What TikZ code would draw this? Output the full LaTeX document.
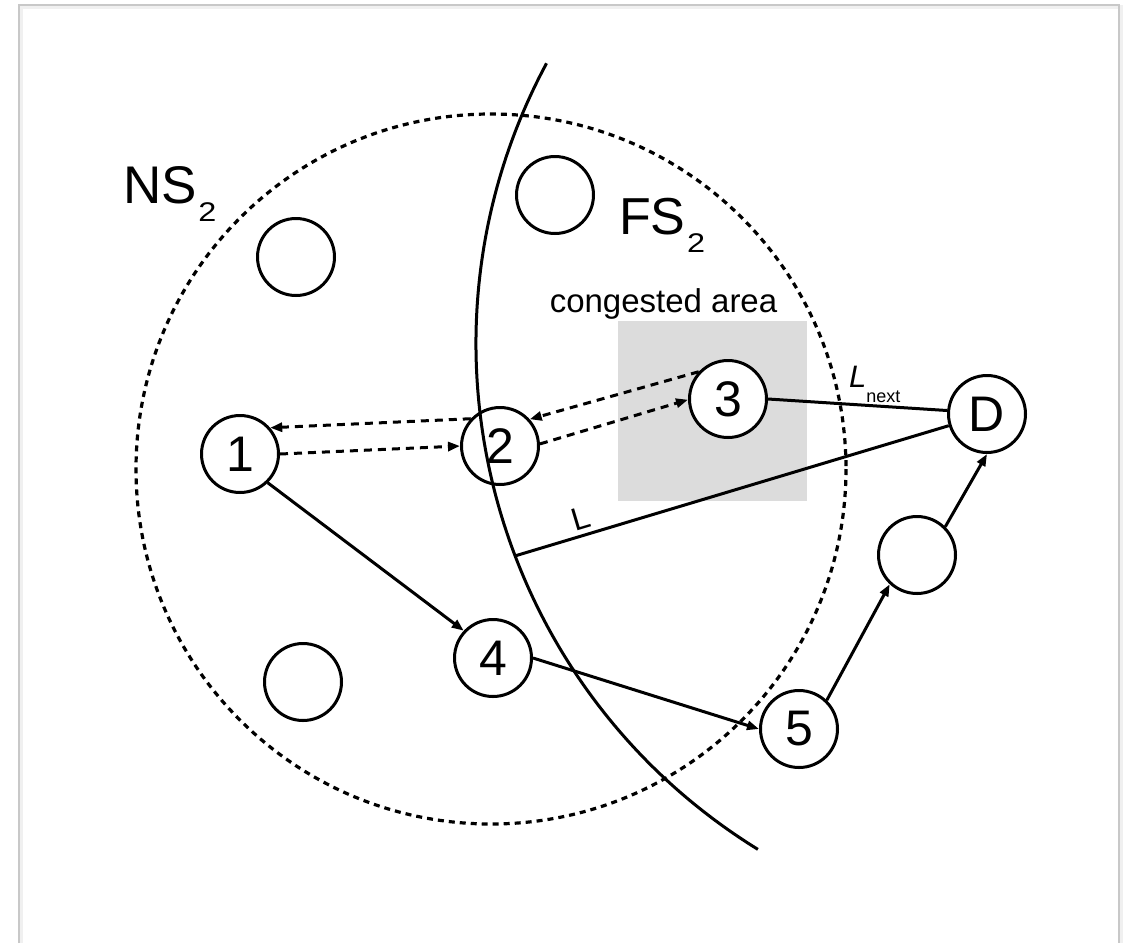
\documentclass[tikz,border=0pt]{standalone}
\usepackage{fontspec}
\usepackage{graphicx}
\setmainfont{Liberation Sans}
\usetikzlibrary{arrows.meta}
\definecolor{congest}{RGB}{220,220,220}
\definecolor{pageedge}{RGB}{200,200,200}
\newcommand{\subtwo}{\kern1.5pt\raisebox{-18pt}{\fontsize{27}{27}\selectfont\scalebox{1.2}[1]{2}}}
\begin{document}
\begin{tikzpicture}[x=1pt,y=-1pt,
  nd/.style={circle, draw, line width=3pt, fill=white, minimum size=77pt, inner sep=0pt, font=\fontsize{50}{50}\selectfont},
  conn/.style={line width=3pt},
  arr/.style={conn, -{Triangle[length=12pt,width=9pt]}},
  darr/.style={arr, dash pattern=on 8pt off 6pt},
  boundary/.style={line width=3pt},
  zone/.style={line width=3.2pt, dash pattern=on 6pt off 5pt},
  lbl/.style={inner sep=0pt}
]
\useasboundingbox (0,0) rectangle (1124,943);
\fill[white] (0,0) rectangle (1124,943);
% page frame
\draw[line width=4pt, black!6] (20.5,943) -- (20.5,6.5) -- (1120.5,6.5) -- (1120.5,943);
\draw[line width=1.2pt, pageedge] (19,943) -- (19,5) -- (1119,5) -- (1119,943);
% congested area
\fill[congest] (618,321) rectangle (807,501);
% NS2 zone
\draw[zone] (491,469) circle[radius=355];
% nodes
\node[nd] (n1) at (240,454) {1};
\node[nd] (n2) at (500,446) {2};
\node[nd] (n3) at (728,399) {3};
\node[nd] (nD) at (987,414) {D};
\node[nd] (n4) at (493,658) {4};
\node[nd] (n5) at (799,729) {5};
\node[nd] (nE) at (917,555) {};
\node[nd] (a1) at (296,257) {};
\node[nd] (a2) at (555,195) {};
\node[nd] (a3) at (303,682) {};
% FS2 boundary
\draw[boundary] (1070,344) ++(208.2:594) arc[start angle=208.2, end angle=121.7, radius=594];
\path (1070,344) ++(159.1:594) coordinate (Lfoot);
% connectors
\draw[darr] (n2.137) -- (n1.41);
\draw[darr] (n1.east) -- (n2.west);
\draw[darr] (n3.137) -- (n2.42);
\draw[darr] (n2.3) -- (n3.181);
\draw[arr] (n1.-46) -- (n4.137);
\draw[arr] (n4.east) -- (n5.west);
\draw[arr] (n5.46) -- (nE.227);
\draw[arr] (nE.45) -- (nD.south);
\draw[conn] (n3.east) -- (nD.175);
\draw[conn] (Lfoot) -- node[sloped, above, pos=0.163, inner sep=5pt, font=\fontsize{32}{32}\selectfont] (lL) {L} (nD.197);
% labels
\node[lbl, anchor=base west, font=\fontsize{53}{53}\selectfont] (ns) at (123,203) {NS\subtwo};
\node[lbl, anchor=base west, font=\fontsize{52}{52}\selectfont] (fs) at (619,234) {FS\subtwo};
\node[lbl, anchor=base, font=\fontsize{33}{33}\selectfont] (ca) at (663.5,312) {congested area};
\node[lbl, anchor=base west, font=\fontsize{31}{31}\selectfont] (ln) at (849,387) {\itshape L\raisebox{-15pt}{\upshape\fontsize{18}{18}\selectfont next}};
\end{tikzpicture}
\end{document}
